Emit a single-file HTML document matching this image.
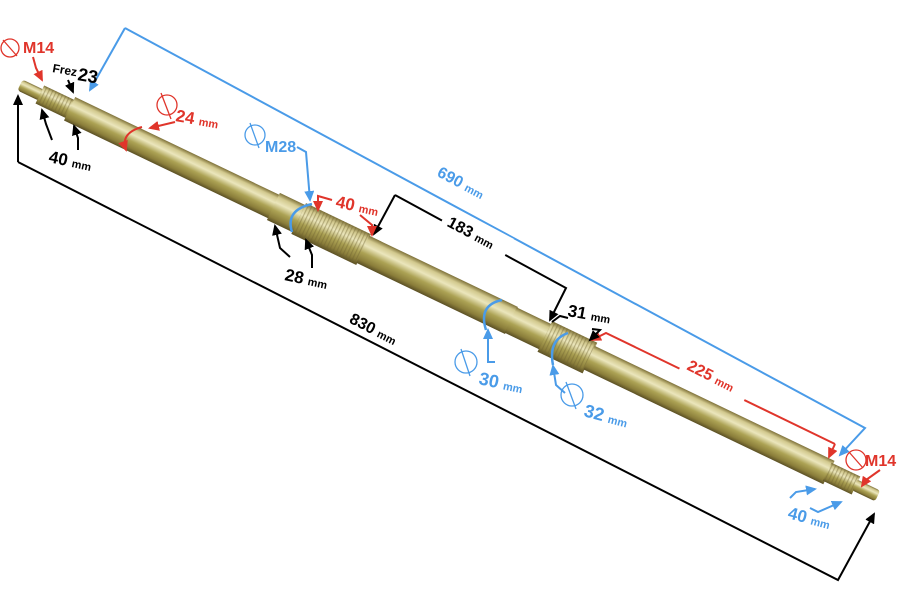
<!DOCTYPE html>
<html><head><meta charset="utf-8"><style>
html,body{margin:0;padding:0;background:#fff;}
svg{display:block;font-family:"Liberation Sans",sans-serif;font-weight:bold;}
</style></head><body>
<svg width="900" height="600" viewBox="0 0 900 600" xmlns="http://www.w3.org/2000/svg">
<defs>
<linearGradient id="g" x1="0" y1="0" x2="0" y2="1">
<stop offset="0" stop-color="#7d7038"/>
<stop offset="0.15" stop-color="#d2c98e"/>
<stop offset="0.35" stop-color="#ebe6bc"/>
<stop offset="0.6" stop-color="#aca254"/>
<stop offset="0.85" stop-color="#8a7d3a"/>
<stop offset="1" stop-color="#5a4f24"/>
</linearGradient>
<pattern id="sp" width="3.5" height="10" patternUnits="userSpaceOnUse">
<rect x="0" width="1.2" height="10" fill="#6e6230" opacity="0.4"/>
</pattern>
<marker id="ab" markerUnits="userSpaceOnUse" markerWidth="11" markerHeight="10" refX="9" refY="5" orient="auto"><path d="M0,0 L11,5 L0,10 z" fill="#000"/></marker>
<marker id="abl" markerUnits="userSpaceOnUse" markerWidth="11" markerHeight="10" refX="9" refY="5" orient="auto"><path d="M0,0 L11,5 L0,10 z" fill="#4a9be8"/></marker>
<marker id="ar" markerUnits="userSpaceOnUse" markerWidth="11" markerHeight="10" refX="9" refY="5" orient="auto"><path d="M0,0 L11,5 L0,10 z" fill="#e0352b"/></marker>
</defs>

<!-- shaft -->
<g transform="translate(20,85) rotate(25.6)">
<rect x="0" y="-6" width="24" height="12" rx="3" fill="url(#g)"/>
<rect x="22" y="-10" width="34" height="20" fill="url(#g)"/>
<rect x="22" y="-10" width="34" height="20" fill="url(#sp)"/>
<rect x="55" y="-13" width="228" height="26" fill="url(#g)"/>
<rect x="281" y="-15" width="30" height="30" fill="url(#g)"/>
<rect x="309" y="-17" width="72" height="34" fill="url(#g)"/>
<rect x="309" y="-17" width="72" height="34" fill="url(#sp)"/>
<rect x="380" y="-15" width="165" height="30" fill="url(#g)"/>
<rect x="544" y="-14" width="40" height="28" fill="url(#g)"/>
<rect x="582" y="-17" width="50" height="34" fill="url(#g)"/>
<rect x="582" y="-17" width="50" height="34" fill="url(#sp)"/>
<rect x="631" y="-13" width="266" height="26" fill="url(#g)"/>
<rect x="895" y="-10" width="32" height="20" fill="url(#g)"/>
<rect x="895" y="-10" width="32" height="20" fill="url(#sp)"/>
<rect x="925" y="-6" width="26" height="12" rx="3" fill="url(#g)"/>
</g>

<!-- 690 blue -->
<polyline points="125,28 865,428 840,455" fill="none" stroke="#4a9be8" stroke-width="2" marker-end="url(#abl)"/>
<line x1="125" y1="28" x2="90" y2="90" stroke="#4a9be8" stroke-width="2" marker-end="url(#abl)"/>
<rect x="428" y="170" width="78" height="24" fill="#fff" transform="rotate(28 465 183)"/>
<text x="436" y="190" fill="#4a9be8" font-size="16" transform="rotate(28 465 183)">690 <tspan font-size="11">mm</tspan></text>

<!-- 830 black -->
<polyline points="18,162 838,580 874,514" fill="none" stroke="#000" stroke-width="2" marker-end="url(#ab)"/>
<line x1="18" y1="162" x2="18" y2="96" stroke="#000" stroke-width="2" marker-end="url(#ab)"/>
<rect x="342" y="318" width="80" height="24" fill="#fff" transform="rotate(27 381 331)"/>
<text x="348" y="338" fill="#000" font-size="16" transform="rotate(27 381 331)">830 <tspan font-size="11">mm</tspan></text>

<!-- 183 black -->
<polyline points="395,195 566,288 550,320" fill="none" stroke="#000" stroke-width="2" marker-end="url(#ab)"/>
<line x1="395" y1="195" x2="374" y2="234" stroke="#000" stroke-width="2" marker-end="url(#ab)"/>
<rect x="440" y="220" width="72" height="24" fill="#fff" transform="rotate(28 475 233)"/>
<text x="446" y="240" fill="#000" font-size="16" transform="rotate(28 475 233)">183 <tspan font-size="11">mm</tspan></text>

<!-- 225 red -->
<polyline points="835,444 606,333 592,340" fill="none" stroke="#e0352b" stroke-width="2" marker-end="url(#ar)"/>
<line x1="835" y1="444" x2="829" y2="457" stroke="#e0352b" stroke-width="2" marker-end="url(#ar)"/>
<rect x="680" y="363" width="72" height="24" fill="#fff" transform="rotate(27 715 376)"/>
<text x="686" y="383" fill="#e0352b" font-size="16" transform="rotate(27 715 376)">225 <tspan font-size="11">mm</tspan></text>

<!-- left M14 -->
<circle cx="10" cy="48" r="9" fill="none" stroke="#e0352b" stroke-width="1.3"/>
<line x1="3" y1="40" x2="17" y2="56" stroke="#e0352b" stroke-width="1.3"/>
<text x="23" y="53" fill="#e0352b" font-size="16">M14</text>
<polyline points="33,57 36,68 42,80" fill="none" stroke="#e0352b" stroke-width="2" marker-end="url(#ar)"/>
<text x="52" y="72" fill="#000" font-size="12" transform="rotate(10 52 72)">Frez</text>
<text x="77" y="80" fill="#000" font-size="18" transform="rotate(10 77 80)">23</text>
<polyline points="68,80 73,92" fill="none" stroke="#000" stroke-width="2" marker-end="url(#ab)"/>
<!-- 40mm left -->
<polyline points="52,140 46,124 42,110" fill="none" stroke="#000" stroke-width="2" marker-end="url(#ab)"/>
<polyline points="78,150 78,138 74,126" fill="none" stroke="#000" stroke-width="2" marker-end="url(#ab)"/>
<text x="48" y="162" fill="#000" font-size="17" transform="rotate(12 48 162)">40 <tspan font-size="11">mm</tspan></text>

<!-- 24 mm red -->
<circle cx="167" cy="105" r="10" fill="none" stroke="#e0352b" stroke-width="1.3"/>
<line x1="161" y1="93" x2="171" y2="119" stroke="#e0352b" stroke-width="1.3"/>
<text x="175" y="121" fill="#e0352b" font-size="17" transform="rotate(10 175 121)">24 <tspan font-size="11">mm</tspan></text>
<polyline points="175,122 150,128" fill="none" stroke="#e0352b" stroke-width="2" marker-end="url(#ar)"/>
<path d="M142,127 Q120,133 126,150" fill="none" stroke="#e0352b" stroke-width="2" marker-end="url(#ar)"/>

<!-- M28 blue -->
<circle cx="255" cy="135" r="10" fill="none" stroke="#4a9be8" stroke-width="1.3"/>
<line x1="250" y1="123" x2="259" y2="148" stroke="#4a9be8" stroke-width="1.3"/>
<text x="265" y="152" fill="#4a9be8" font-size="16">M28</text>
<polyline points="297,147 306,152 310,200" fill="none" stroke="#4a9be8" stroke-width="2" marker-end="url(#abl)"/>
<path d="M312,204 Q285,210 292,232" fill="none" stroke="#4a9be8" stroke-width="2.5"/>

<!-- 40 mm red mid -->
<polyline points="332,200 318,196 318,210" fill="none" stroke="#e0352b" stroke-width="2" marker-end="url(#ar)"/>
<text x="335" y="207" fill="#e0352b" font-size="17" transform="rotate(12 335 207)">40 <tspan font-size="11">mm</tspan></text>
<polyline points="360,215 372,225 372,235" fill="none" stroke="#e0352b" stroke-width="2" marker-end="url(#ar)"/>

<!-- 28 mm -->
<polyline points="290,257 280,248 275,226" fill="none" stroke="#000" stroke-width="2" marker-end="url(#ab)"/>
<polyline points="312,268 312,255 306,240" fill="none" stroke="#000" stroke-width="2" marker-end="url(#ab)"/>
<text x="284" y="280" fill="#000" font-size="17" transform="rotate(12 284 280)">28 <tspan font-size="11">mm</tspan></text>

<!-- 30 mm blue -->
<path d="M502,300 Q478,305 486,330" fill="none" stroke="#4a9be8" stroke-width="2.5"/>
<polyline points="495,362 488,362 488,330" fill="none" stroke="#4a9be8" stroke-width="2" marker-end="url(#abl)"/>
<circle cx="466" cy="362" r="11" fill="none" stroke="#4a9be8" stroke-width="1.3"/>
<line x1="461" y1="349" x2="470" y2="376" stroke="#4a9be8" stroke-width="1.3"/>
<text x="478" y="384" fill="#4a9be8" font-size="18" transform="rotate(12 478 384)">30 <tspan font-size="11">mm</tspan></text>

<!-- 31 mm -->
<polyline points="568,318 560,316 552,322" fill="none" stroke="#000" stroke-width="2"/>
<text x="567" y="316" fill="#000" font-size="17" transform="rotate(10 567 316)">31 <tspan font-size="11">mm</tspan></text>
<polyline points="592,329 600,330 590,340" fill="none" stroke="#000" stroke-width="2" marker-end="url(#ab)"/>

<!-- 32 mm blue -->
<path d="M568,333 Q548,340 553,365" fill="none" stroke="#4a9be8" stroke-width="2.5"/>
<polyline points="565,393 556,385 553,366" fill="none" stroke="#4a9be8" stroke-width="2" marker-end="url(#abl)"/>
<circle cx="572" cy="395" r="11" fill="none" stroke="#4a9be8" stroke-width="1.3"/>
<line x1="566" y1="382" x2="576" y2="409" stroke="#4a9be8" stroke-width="1.3"/>
<text x="583" y="416" fill="#4a9be8" font-size="18" transform="rotate(15 583 416)">32 <tspan font-size="11">mm</tspan></text>

<!-- right M14 -->
<circle cx="856" cy="460" r="10" fill="none" stroke="#e0352b" stroke-width="1.3"/>
<line x1="849" y1="452" x2="863" y2="468" stroke="#e0352b" stroke-width="1.3"/>
<text x="865" y="466" fill="#e0352b" font-size="16">M14</text>
<polyline points="880,470 866,480 862,486" fill="none" stroke="#e0352b" stroke-width="2" marker-end="url(#ar)"/>

<!-- right 40mm blue -->
<polyline points="790,498 796,492 815,489" fill="none" stroke="#4a9be8" stroke-width="2" marker-end="url(#abl)"/>
<polyline points="810,508 818,512 841,502" fill="none" stroke="#4a9be8" stroke-width="2" marker-end="url(#abl)"/>
<text x="787" y="518" fill="#4a9be8" font-size="17" transform="rotate(15 787 518)">40 <tspan font-size="11">mm</tspan></text>
</svg>
</body></html>
